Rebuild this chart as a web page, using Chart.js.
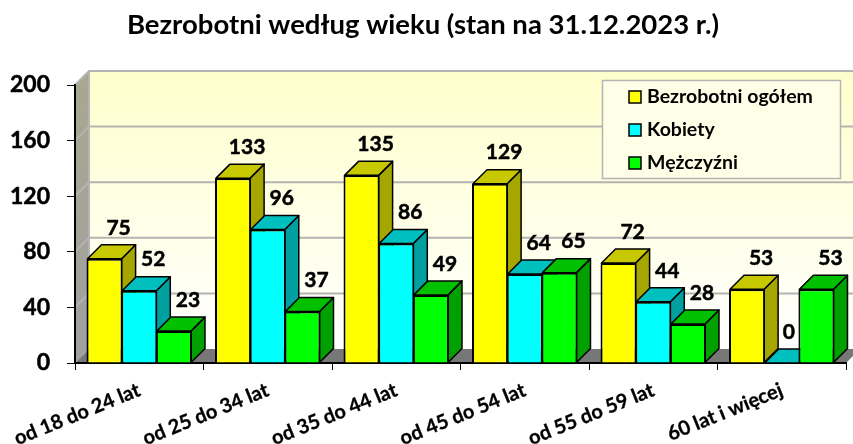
<!DOCTYPE html>
<html lang="pl">
<head>
<meta charset="utf-8">
<title>Bezrobotni według wieku</title>
<script src="https://cdn.jsdelivr.net/npm/chart.js@4/dist/chart.umd.min.js"></script>
<style>
    html, body { margin: 0; padding: 0; background: #fff; }
    #wrap { width: 853px; height: 444px; }
</style>
</head>
<body>
<div id="wrap"><canvas id="chart" width="853" height="444"></canvas></div>
<script>
// Dane
const categories = ['od 18 do 24 lat', 'od 25 do 34 lat', 'od 35 do 44 lat', 'od 45 do 54 lat', 'od 55 do 59 lat', '60 lat i więcej'];
const ogolem = [75, 133, 135, 129, 72, 53];
const kobiety = [52, 96, 86, 64, 44, 0];
const mezczyzni = [23, 37, 49, 65, 28, 53];
const yTicks = [0, 40, 80, 120, 160, 200];

const FONT = 'Lato, "Open Sans", sans-serif';
const DEPTH = 14; // glebokosc efektu 3D

// Kolory scianek slupkow (front, gora, bok)
const faces = [
    { front: '#ffff00', top: '#c8c800', side: '#a6a600' },
    { front: '#00ffff', top: '#00bfbf', side: '#00a0a0' },
    { front: '#00ff00', top: '#00c000', side: '#00a000' }
];

function poly(ctx, pts, fill, stroke, lw) {
    ctx.beginPath();
    pts.forEach((p, i) => i ? ctx.lineTo(p[0], p[1]) : ctx.moveTo(p[0], p[1]));
    ctx.closePath();
    ctx.fillStyle = fill;
    ctx.fill();
    if (stroke) {
        ctx.strokeStyle = stroke;
        ctx.lineWidth = lw;
        ctx.stroke();
    }
}

// Sciany wykresu: tlo, lewa sciana, podloga, linie siatki
const wallsPlugin = {
    id: 'walls',
    beforeDraw(chart) {
        const { ctx, chartArea: a, scales } = chart;
        const d = DEPTH;
        ctx.save();

        const g = ctx.createLinearGradient(0, a.top - d, 0, a.bottom - d);
        g.addColorStop(0, '#ffffcc');
        g.addColorStop(1, '#ffffff');
        ctx.fillStyle = g;
        ctx.fillRect(a.left + d, a.top - d, a.right - a.left, a.bottom - a.top);

        const s = ctx.createLinearGradient(0, a.top - d, 0, a.bottom);
        s.addColorStop(0, '#a8a890');
        s.addColorStop(1, '#a0a0a0');
        poly(ctx, [[a.left, a.top], [a.left + d, a.top - d], [a.left + d, a.bottom - d], [a.left, a.bottom]], s);

        poly(ctx, [[a.left, a.bottom], [a.left + d, a.bottom - d], [a.right + d, a.bottom - d], [a.right, a.bottom]], '#777777');

        ctx.strokeStyle = '#b4b4b4';
        ctx.lineWidth = 2;
        yTicks.forEach(v => {
            if (v === 0) return;
            const y = scales.y.getPixelForValue(v);
            ctx.beginPath();
            ctx.moveTo(a.left, y);
            ctx.lineTo(a.left + d, y - d);
            ctx.lineTo(a.right + d, y - d);
            ctx.stroke();
        });
        ctx.beginPath();
        ctx.moveTo(a.left + d, a.top - d);
        ctx.lineTo(a.left + d, a.bottom - d);
        ctx.stroke();
        ctx.restore();
    }
};

// Boczne i gorne scianki slupkow, rysowane pod frontami z biblioteki
const depthPlugin = {
    id: 'depth',
    beforeDatasetsDraw(chart) {
        const { ctx } = chart;
        const d = DEPTH;
        ctx.save();
        ctx.lineJoin = 'round';
        chart.data.labels.forEach((_, i) => {
            chart.data.datasets.forEach((ds, k) => {
                const bar = chart.getDatasetMeta(k).data[i];
                const l = bar.x - bar.width / 2 + 1;
                const r = bar.x + bar.width / 2 - 1;
                const t = bar.y;
                const b = bar.base;
                const c = faces[k];
                poly(ctx, [[r, t], [r + d, t - d], [r + d, b - d], [r, b]], c.side, '#000', 1.5);
                poly(ctx, [[l, t], [l + d, t - d], [r + d, t - d], [r, t]], c.top, '#000', 1.5);
            });
        });
        ctx.restore();
    }
};

// Etykiety wartosci i legenda w ramce
const labelsPlugin = {
    id: 'valueLabels',
    afterDraw(chart) {
        const { ctx } = chart;
        ctx.save();
        ctx.fillStyle = '#000';
        ctx.strokeStyle = '#000';
        ctx.lineWidth = 0.5;
        ctx.font = 'bold 21px ' + FONT;
        ctx.textAlign = 'center';
        ctx.textBaseline = 'middle';
        chart.data.datasets.forEach((ds, k) => {
            chart.getDatasetMeta(k).data.forEach((bar, i) => {
                const dx = ds.data[i] === 0 ? DEPTH / 2 : DEPTH;
                ctx.fillText(String(ds.data[i]), bar.x + dx, bar.y - 31);
                ctx.strokeText(String(ds.data[i]), bar.x + dx, bar.y - 31);
            });
        });

        // legenda
        ctx.fillStyle = '#ffffe8';
        ctx.fillRect(602.5, 80.5, 238, 98);
        ctx.strokeStyle = '#b4b4b4';
        ctx.lineWidth = 1.5;
        ctx.strokeRect(602.5, 80.5, 238, 98);
        ctx.font = 'bold 19.5px ' + FONT;
        ctx.textAlign = 'left';
        chart.data.datasets.forEach((ds, k) => {
            const y = 97 + k * 33;
            ctx.fillStyle = faces[k].front;
            ctx.fillRect(629, y - 6, 12, 12);
            ctx.strokeStyle = '#000';
            ctx.lineWidth = 1.5;
            ctx.strokeRect(629, y - 6, 12, 12);
            ctx.fillStyle = '#000';
            ctx.fillText(ds.label, 647, y);
        });
        ctx.restore();
    }
};

new Chart(document.getElementById('chart'), {
    type: 'bar',
    data: {
        labels: categories,
        datasets: [
            { label: 'Bezrobotni ogółem', data: ogolem, backgroundColor: faces[0].front },
            { label: 'Kobiety', data: kobiety, backgroundColor: faces[1].front },
            { label: 'Mężczyźni', data: mezczyzni, backgroundColor: faces[2].front }
        ]
    },
    options: {
        responsive: false,
        animation: false,
        layout: { padding: { right: 7 } },
        datasets: {
            bar: {
                categoryPercentage: 0.81,
                barPercentage: 1.04,
                borderColor: '#000',
                borderWidth: 2
            }
        },
        plugins: {
            legend: { display: false },
            tooltip: { enabled: false },
            title: {
                display: true,
                text: 'Bezrobotni według wieku (stan na 31.12.2023 r.)',
                color: '#000',
                font: { family: FONT, size: 27.5, weight: 'bold' },
                padding: { top: 9, bottom: 43 }
            }
        },
        scales: {
            x: {
                offset: true,
                afterFit(scale) { scale.height = 81; },
                grid: { offset: true, drawOnChartArea: false, drawTicks: true, tickLength: 7, tickColor: '#000' },
                border: { color: '#000', width: 2 },
                ticks: {
                    color: '#000',
                    font: { family: FONT, size: 20, weight: 'bold' },
                    minRotation: 22,
                    maxRotation: 22,
                    padding: 8,
                    textStrokeColor: '#000',
                    textStrokeWidth: 0.3
                }
            },
            y: {
                min: 0,
                max: 200,
                afterFit(scale) { scale.width = 75; },
                afterBuildTicks(scale) { scale.ticks = yTicks.map(v => ({ value: v })); },
                grid: { drawOnChartArea: false, drawTicks: true, tickLength: 8, tickColor: '#000' },
                border: { color: '#000', width: 2 },
                ticks: {
                    color: '#000',
                    font: { family: FONT, size: 23, weight: 'bold' },
                    padding: 17,
                    textStrokeColor: '#000',
                    textStrokeWidth: 0.5
                }
            }
        }
    },
    plugins: [wallsPlugin, depthPlugin, labelsPlugin]
});
</script>
</body>
</html>
